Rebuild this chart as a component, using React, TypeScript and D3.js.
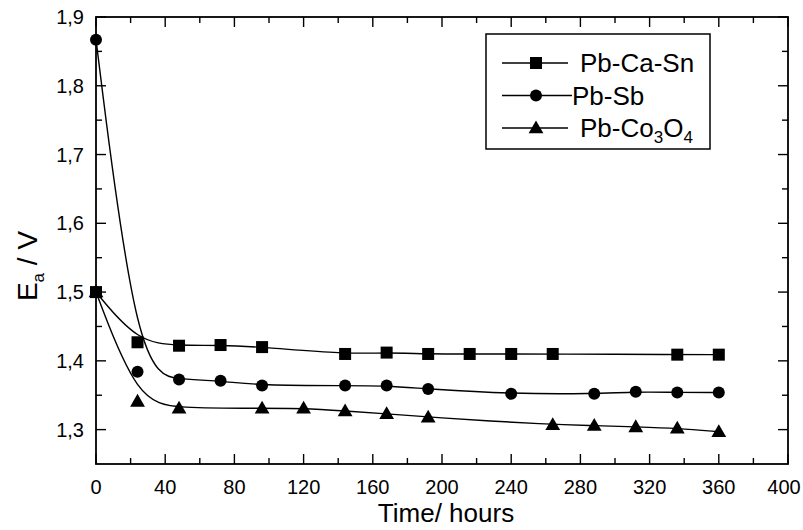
import React from "react";
import * as d3 from "d3";

// Anodic potential of lead alloy electrodes vs. time
const caSnHours = [0, 24, 48, 72, 96, 144, 168, 192, 216, 240, 264, 336, 360];
const caSnValues = [1.5, 1.427, 1.422, 1.423, 1.42, 1.41, 1.412, 1.41, 1.41, 1.41, 1.41, 1.409, 1.409];

const sbHours = [0, 24, 48, 72, 96, 144, 168, 192, 240, 288, 312, 336, 360];
const sbValues = [1.867, 1.384, 1.373, 1.371, 1.364, 1.364, 1.364, 1.359, 1.352, 1.352, 1.355, 1.354, 1.354];

const coHours = [0, 24, 48, 96, 120, 144, 168, 192, 264, 288, 312, 336, 360];
const coValues = [1.5, 1.341, 1.331, 1.331, 1.331, 1.327, 1.323, 1.318, 1.307, 1.306, 1.304, 1.302, 1.297];

const xTickValues = [0, 40, 80, 120, 160, 200, 240, 280, 320, 360, 400];
const yTickValues = [1.3, 1.4, 1.5, 1.6, 1.7, 1.8, 1.9];

const W = 803;
const H = 530;
const FONT = "'Liberation Sans', Arial, Helvetica, sans-serif";

const x = d3.scaleLinear().domain([0, 400]).range([96, 788]);
const y = d3.scaleLinear().domain([1.25, 1.9]).range([464, 17]);

const commaFmt = d3.formatLocale({ decimal: ",", thousands: ".", grouping: [3], currency: ["", ""] }).format(".1f");

type Shape = "square" | "circle" | "triangle";

function Marker({ cx, cy, shape }: { cx: number; cy: number; shape: Shape }) {
  if (shape === "square") {
    return <rect x={cx - 6} y={cy - 6} width={12} height={12} fill="#000" />;
  }
  if (shape === "circle") {
    return <circle cx={cx} cy={cy} r={6} fill="#000" />;
  }
  const sym = d3.symbol().type(d3.symbolTriangle).size(95)();
  return <path d={sym || ""} transform={`translate(${cx},${cy + 1})`} fill="#000" />;
}

const series: { name: string; hours: number[]; values: number[]; shape: Shape }[] = [
  { name: "Pb-Ca-Sn", hours: caSnHours, values: caSnValues, shape: "square" },
  { name: "Pb-Sb", hours: sbHours, values: sbValues, shape: "circle" },
  { name: "Pb-Co3O4", hours: coHours, values: coValues, shape: "triangle" },
];

export default function App() {
  const line = d3
    .line<[number, number]>()
    .x((d) => x(d[0]))
    .y((d) => y(d[1]))
    .curve(d3.curveBasis);

  const xMinor = d3.range(20, 400, 40);
  const yMinor = d3.range(1.35, 1.9, 0.1);

  const [x0, x1] = x.range();
  const [y0, y1] = y.range();

  return (
    <svg
      width={W}
      height={H}
      style={{ position: "absolute", left: 0, top: 0, background: "#fff" }}
      fontFamily={FONT}
    >
      <rect x={0} y={0} width={W} height={H} fill="#fff" />

      {/* curves */}
      {series.map((s) => (
        <path
          key={s.name}
          d={line(s.hours.map((h, i) => [h, s.values[i]] as [number, number])) || ""}
          fill="none"
          stroke="#000"
          strokeWidth={1.4}
        />
      ))}

      {/* markers */}
      {series.map((s) =>
        s.hours.map((h, i) => (
          <Marker key={s.name + i} cx={x(h)} cy={y(s.values[i])} shape={s.shape} />
        ))
      )}

      {/* frame */}
      <rect x={x0} y={y1} width={x1 - x0} height={y0 - y1} fill="none" stroke="#000" strokeWidth={1.8} />

      {/* x ticks (bottom & top, inward) */}
      {xTickValues.map((v) => (
        <g key={"xt" + v}>
          <line x1={x(v)} x2={x(v)} y1={y0} y2={y0 - 10} stroke="#000" strokeWidth={1.4} />
          <line x1={x(v)} x2={x(v)} y1={y1} y2={y1 + 10} stroke="#000" strokeWidth={1.4} />
          <text x={Math.min(x(v), W - 19)} y={494} fontSize={20} textAnchor="middle" fill="#000">
            {v}
          </text>
        </g>
      ))}
      {xMinor.map((v) => (
        <g key={"xm" + v}>
          <line x1={x(v)} x2={x(v)} y1={y0} y2={y0 - 6} stroke="#000" strokeWidth={1.4} />
          <line x1={x(v)} x2={x(v)} y1={y1} y2={y1 + 6} stroke="#000" strokeWidth={1.4} />
        </g>
      ))}

      {/* y ticks (left & right, inward) */}
      {yTickValues.map((v) => (
        <g key={"yt" + v}>
          <line x1={x0} x2={x0 + 10} y1={y(v)} y2={y(v)} stroke="#000" strokeWidth={1.4} />
          <line x1={x1} x2={x1 - 10} y1={y(v)} y2={y(v)} stroke="#000" strokeWidth={1.4} />
          <text x={84} y={y(v) + 7} fontSize={20} textAnchor="end" fill="#000">
            {commaFmt(v)}
          </text>
        </g>
      ))}
      {yMinor.map((v) => (
        <g key={"ym" + v}>
          <line x1={x0} x2={x0 + 6} y1={y(v)} y2={y(v)} stroke="#000" strokeWidth={1.4} />
          <line x1={x1} x2={x1 - 6} y1={y(v)} y2={y(v)} stroke="#000" strokeWidth={1.4} />
        </g>
      ))}

      {/* axis titles */}
      <text x={446} y={522} fontSize={26} textAnchor="middle" fill="#000">
        Time/ hours
      </text>
      <text transform="translate(37,266) rotate(-90)" fontSize={28} textAnchor="middle" fill="#000">
        E
        <tspan fontSize={17} dy={7}>
          a
        </tspan>
        <tspan dy={-7}> / V</tspan>
      </text>

      {/* legend */}
      <rect x={486} y={34} width={224} height={115} fill="#fff" stroke="#000" strokeWidth={1.5} />
      {series.map((s, i) => {
        const cy = 63 + i * 32.5;
        const lineEnd = s.shape === "circle" ? 572 : 568;
        const tx = s.shape === "circle" ? 572 : 580;
        return (
          <g key={"lg" + s.name}>
            <line x1={502} x2={lineEnd} y1={cy} y2={cy} stroke="#000" strokeWidth={1.4} />
            <Marker cx={536} cy={cy} shape={s.shape} />
            <text x={tx} y={cy + 9} fontSize={26} fill="#000">
              {s.shape === "triangle" ? (
                <>
                  Pb-Co
                  <tspan fontSize={17} dy={6}>3</tspan>
                  <tspan dy={-6}>O</tspan>
                  <tspan fontSize={17} dy={6}>4</tspan>
                </>
              ) : (
                s.name
              )}
            </text>
          </g>
        );
      })}
    </svg>
  );
}
